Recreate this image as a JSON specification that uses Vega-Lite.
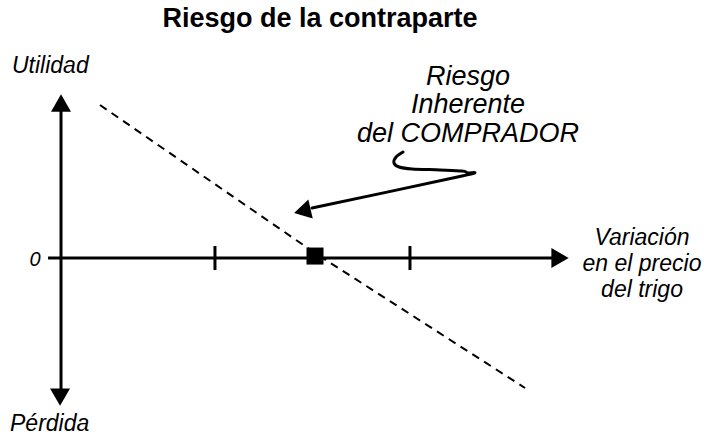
{
  "$schema": "https://vega.github.io/schema/vega-lite/v6.json",
  "width": 704,
  "height": 439,
  "padding": 0,
  "autosize": {"type": "fit", "contains": "padding"},
  "background": "white",
  "config": {"view": {"stroke": null}},
  "datasets": {
    "dashed": [
      {"x": -2.205, "y": 1.569, "order": 1},
      {"x": 0.0, "y": 0.051, "order": 2},
      {"x": 2.154, "y": -1.333, "order": 3}
    ],
    "axes": [
      {"name": "eje precio", "x": -2.738, "y": 0, "x2": 2.462, "y2": 0},
      {"name": "eje utilidad", "x": -2.605, "y": 1.518, "x2": -2.605, "y2": -1.405},
      {"name": "marca -1", "x": -1.026, "y": 0.123, "x2": -1.026, "y2": -0.123},
      {"name": "marca +1", "x": 0.974, "y": 0.123, "x2": 0.974, "y2": -0.123}
    ],
    "heads": [
      {"dir": "up", "x": -2.605, "y": 1.59},
      {"dir": "down", "x": -2.615, "y": -1.426},
      {"dir": "right", "x": 2.513, "y": 0.0}
    ],
    "origin": [{"x": 0, "y": 0.02}],
    "callout": [
      {"x": 0.903, "y": 1.087, "order": 1},
      {"x": 0.831, "y": 1.036, "order": 2},
      {"x": 0.81, "y": 0.974, "order": 3},
      {"x": 0.862, "y": 0.933, "order": 4},
      {"x": 0.995, "y": 0.913, "order": 5},
      {"x": 1.282, "y": 0.903, "order": 6},
      {"x": 1.508, "y": 0.892, "order": 7},
      {"x": 1.559, "y": 0.872, "order": 8},
      {"x": 1.508, "y": 0.841, "order": 9},
      {"x": -0.031, "y": 0.513, "order": 10}
    ],
    "callhead": [{"x": -0.13, "y": 0.482}],
    "title": [{"text": "Riesgo de la contraparte", "x": 0.051, "y": 2.369}],
    "leftlabels": [
      {"text": "Utilidad", "x": -3.108, "y": 1.897},
      {"text": "Pérdida", "x": -3.128, "y": -1.775}
    ],
    "zero": [{"text": "0", "x": -2.872, "y": -0.082}],
    "xlabel": [
      {"text": "Variación", "x": 3.354, "y": 0.133},
      {"text": "en el precio", "x": 3.354, "y": -0.133},
      {"text": "del trigo", "x": 3.354, "y": -0.4}
    ],
    "note": [
      {"text": "Riesgo", "x": 1.569, "y": 1.774},
      {"text": "Inherente", "x": 1.569, "y": 1.487},
      {"text": "del COMPRADOR", "x": 1.569, "y": 1.19}
    ]
  },
  "encoding": {
    "x": {"field": "x", "type": "quantitative", "scale": {"domain": [-3.2308, 3.9897], "nice": false, "zero": false}, "axis": null},
    "y": {"field": "y", "type": "quantitative", "scale": {"domain": [-1.8564, 2.6462], "nice": false, "zero": false}, "axis": null}
  },
  "layer": [
    {
      "data": {"name": "dashed"},
      "mark": {"type": "line", "color": "black", "strokeWidth": 2, "strokeDash": [8, 6]},
      "encoding": {"order": {"field": "order", "type": "quantitative"}}
    },
    {
      "data": {"name": "axes"},
      "mark": {"type": "rule", "color": "black", "strokeWidth": 3},
      "encoding": {"x2": {"field": "x2"}, "y2": {"field": "y2"}}
    },
    {
      "data": {"name": "heads"},
      "mark": {"type": "point", "filled": true, "color": "black", "opacity": 1, "size": 400, "strokeWidth": 0},
      "encoding": {
        "shape": {"field": "dir", "type": "nominal", "scale": {"domain": ["up", "down", "right"], "range": ["triangle-up", "triangle-down", "triangle-right"]}, "legend": null}
      }
    },
    {
      "data": {"name": "origin"},
      "mark": {"type": "point", "shape": "square", "filled": true, "color": "black", "opacity": 1, "size": 290, "strokeWidth": 0}
    },
    {
      "data": {"name": "callout"},
      "mark": {"type": "line", "color": "black", "strokeWidth": 3, "interpolate": "cardinal", "strokeCap": "round"},
      "encoding": {"order": {"field": "order", "type": "quantitative"}}
    },
    {
      "data": {"name": "callhead"},
      "mark": {"type": "point", "shape": "triangle-left", "angle": -13, "filled": true, "color": "black", "opacity": 1, "size": 380, "strokeWidth": 0}
    },
    {
      "data": {"name": "title"},
      "mark": {"type": "text", "font": "Liberation Sans", "fontWeight": "bold", "fontSize": 27, "align": "center", "baseline": "alphabetic", "color": "black"},
      "encoding": {"text": {"field": "text"}}
    },
    {
      "data": {"name": "leftlabels"},
      "mark": {"type": "text", "font": "Liberation Sans", "fontStyle": "italic", "fontSize": 23, "align": "left", "baseline": "alphabetic", "color": "black"},
      "encoding": {"text": {"field": "text"}}
    },
    {
      "data": {"name": "zero"},
      "mark": {"type": "text", "font": "Liberation Sans", "fontStyle": "italic", "fontSize": 20, "align": "center", "baseline": "alphabetic", "color": "black"},
      "encoding": {"text": {"field": "text"}}
    },
    {
      "data": {"name": "xlabel"},
      "mark": {"type": "text", "font": "Liberation Sans", "fontStyle": "italic", "fontSize": 23, "align": "center", "baseline": "alphabetic", "color": "black"},
      "encoding": {"text": {"field": "text"}}
    },
    {
      "data": {"name": "note"},
      "mark": {"type": "text", "font": "Liberation Sans", "fontStyle": "italic", "fontSize": 27, "align": "center", "baseline": "alphabetic", "color": "black"},
      "encoding": {"text": {"field": "text"}}
    }
  ]
}
